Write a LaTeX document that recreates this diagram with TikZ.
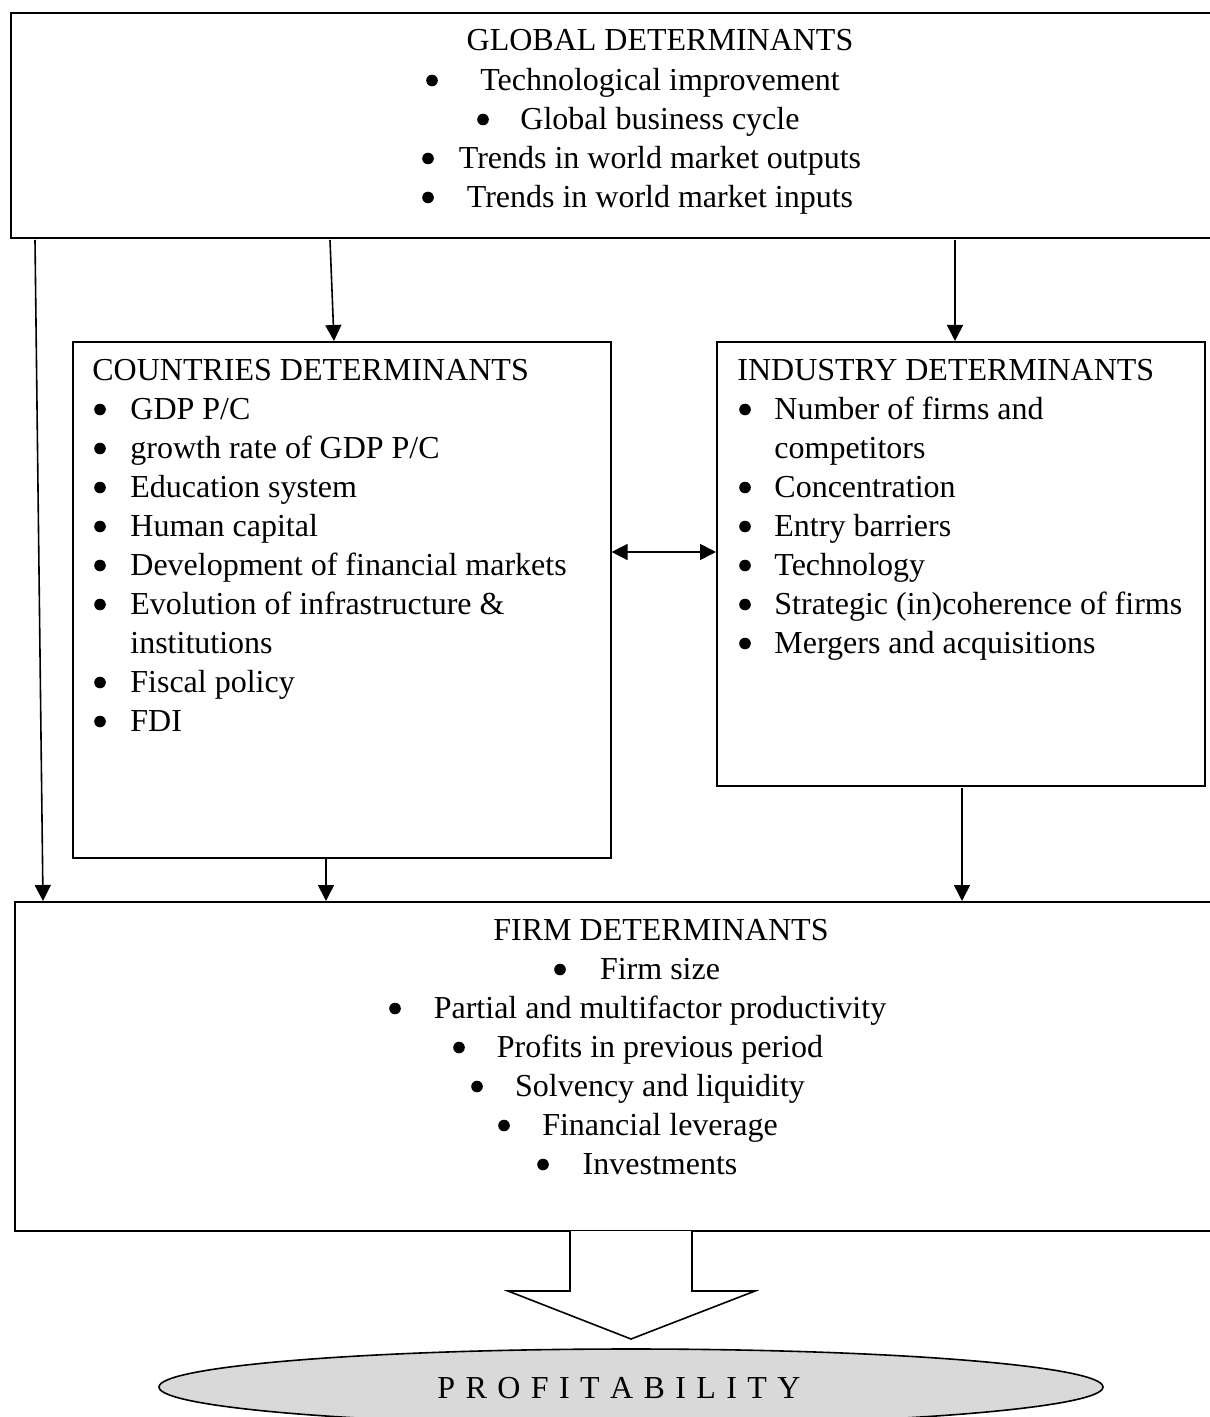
\documentclass[tikz,border=0pt]{standalone}
\usepackage{fontspec}
\setmainfont{Liberation Serif}
\usetikzlibrary{arrows.meta,shapes.geometric,calc}
\begin{document}
\begin{tikzpicture}[x=0.5pt,y=-0.5pt,
 box/.style={draw,line width=0.8pt,rectangle,anchor=north west,inner sep=0pt,fill=white},
 txt/.style={inner sep=0pt,font=\fontsize{16pt}{19.5pt}\selectfont},
 bul/.style={circle,fill=black,inner sep=0pt,minimum size=5.8pt},
 arr/.style={line width=0.8pt,-{Triangle[length=8pt,width=8pt]}},
 darr/.style={line width=0.8pt,{Triangle[length=8pt,width=8pt]}-{Triangle[length=8pt,width=8pt]}}]
\useasboundingbox (0,0) rectangle (1209,1417);

% boxes
\node[box,minimum width=610pt,minimum height=112.5pt] (top) at (10,12) {};
\node[box,minimum width=269pt,minimum height=258pt] (ctry) at (72,341) {};
\node[box,minimum width=244pt,minimum height=222pt] (ind) at (716,341) {};
\node[box,minimum width=610pt,minimum height=164.5pt] (firm) at (14,901) {};

% global text
\node[txt,anchor=base] (gt) at (660,51) {GLOBAL DETERMINANTS};
\foreach \t/\yy/\bx [count=\i] in {{Technological improvement}/90.5/432, {Global business cycle}/129.5/483, {Trends in world market outputs}/168.5/428, {Trends in world market inputs}/207.5/428}{
  \node[txt,anchor=base] (g\i) at (660,\yy) {\t};
  \node[bul] (gb\i) at (\bx,\yy-10) {};
}

% countries text
\node[txt,anchor=base west] (ct) at (92,380) {COUNTRIES DETERMINANTS};
\foreach \t/\yy [count=\i] in {{GDP P/C}/419.5, {growth rate of GDP P/C}/458.5, {Education system}/497.5, {Human capital}/536.5, {Development of financial markets}/575.5, {Evolution of infrastructure \&}/614.5, {Fiscal policy}/692.5, {FDI}/731.5}{
  \node[txt,anchor=base west] (c\i) at (130,\yy) {\t};
  \node[bul] (cb\i) at (100,\yy-10) {};
}
\node[txt,anchor=base west] (c6b) at (130,653.5) {institutions};

% industry text
\node[txt,anchor=base west] (it) at (737,380) {INDUSTRY DETERMINANTS};
\foreach \t/\yy [count=\i] in {{Number of firms and}/419.5, {Concentration}/497.5, {Entry barriers}/536.5, {Technology}/575.5, {Strategic (in)coherence of firms}/614.5, {Mergers and acquisitions}/653.5}{
  \node[txt,anchor=base west] (i\i) at (774,\yy) {\t};
  \node[bul] (ib\i) at (745,\yy-10) {};
}
\node[txt,anchor=base west] (i1b) at (774,458.5) {competitors};

% firm text
\node[txt,anchor=base] (ft) at (661,940) {FIRM DETERMINANTS};
\foreach \t/\yy/\bx [count=\i] in {{Firm size}/979.5/560, {Partial and multifactor productivity}/1018.5/395, {Profits in previous period}/1057.5/459, {Solvency and liquidity}/1096.5/477, {Financial leverage}/1135.5/504, {Investments}/1174.5/543}{
  \node[txt,anchor=base] (f\i) at (660,\yy) {\t};
  \node[bul] (fb\i) at (\bx,\yy-10) {};
}

% connectors
\coordinate (s1) at (35,240);
\coordinate (e1) at (43,0);
\draw[arr] (s1) -- (e1 |- firm.north);
\coordinate (s2) at (330,240);
\coordinate (e2) at (334,0);
\draw[arr] (s2) -- (e2 |- ctry.north);
\coordinate (s3) at (955,240);
\draw[arr] (s3) -- (s3 |- ind.north);
\coordinate (s4) at (326,0);
\draw[arr] (s4 |- ctry.south) -- (s4 |- firm.north);
\coordinate (s5) at (962,788);
\draw[arr] (s5) -- (s5 |- firm.north);
\coordinate (m) at (0,552);
\draw[darr] (ctry.east |- m) -- (ind.west |- m);

% block arrow
\draw[line width=0.8pt,fill=white] (570,1231) -- (570,1291) -- (508,1291) -- (631,1339) -- (755,1291) -- (692,1291) -- (692,1231);

% ellipse
\node[ellipse,draw,line width=0.8pt,fill={rgb,255:red,217;green,217;blue,217},minimum width=472pt,minimum height=38pt,inner sep=0pt] (prof) at (631,1387) {};
\node[txt,anchor=base] (pt) at (619,1398) {\spaceskip=5.2pt P R O F I T A B I L I T Y};
\end{tikzpicture}
\end{document}
